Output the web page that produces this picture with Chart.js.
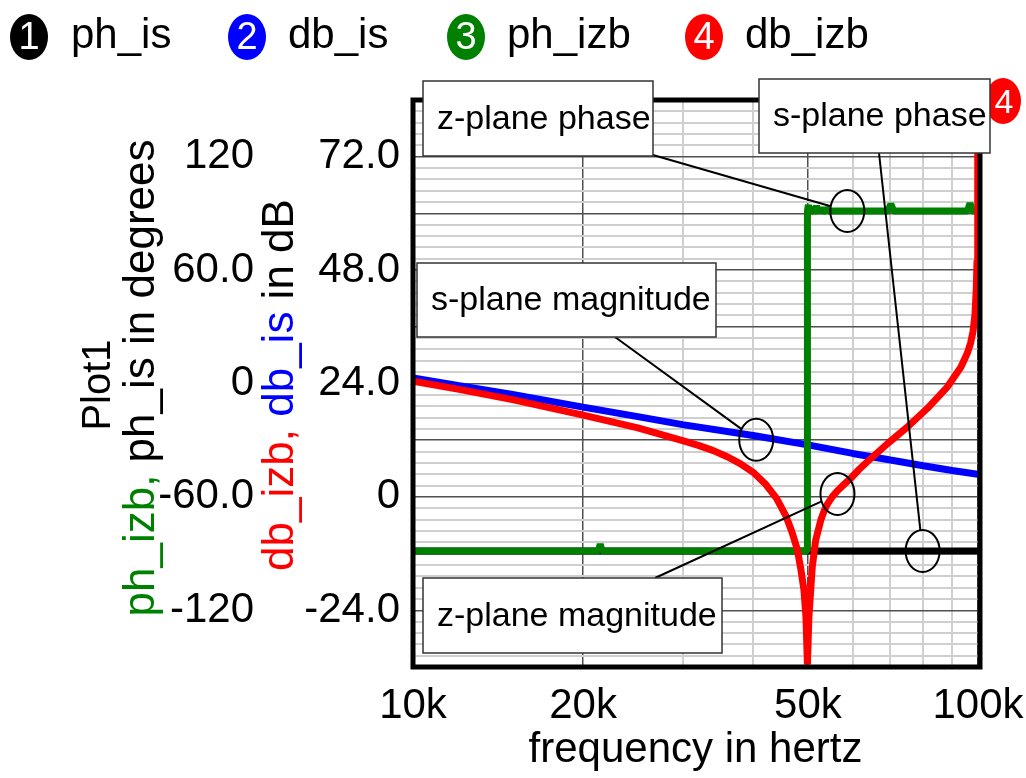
<!DOCTYPE html>
<html>
<head>
<meta charset="utf-8">
<title>Plot1</title>
<script src="https://cdn.jsdelivr.net/npm/chart.js@4.4.1/dist/chart.umd.min.js"></script>
<style>
  html, body { margin: 0; padding: 0; background: #fff; }
  #wrap { width: 1026px; height: 778px; }
</style>
</head>
<body>
<div id="wrap"><canvas id="plot"></canvas></div>
<script>
// values
const xGridValues = [10000, 20000, 30000, 40000, 50000, 60000, 70000, 80000, 90000, 100000];
const xTickValues = [10000, 20000, 50000, 100000];
const xTickLabels = ['10k', '20k', '50k', '100k'];
const phTickValues = [120, 60, 0, -60, -120];
const phTickLabels = ['120', '60.0', '0', '-60.0', '-120'];
const dbTickValues = [72, 48, 24, 0, -24];
const dbTickLabels = ['72.0', '48.0', '24.0', '0', '-24.0'];

// 1: ph_is (s-plane phase)
const phIsFreq = [10000, 100000];
const phIsVals = [-88.6, -88.6];

// 2: db_is (s-plane magnitude)
const dbIsFreq = [10000, 12000, 15000, 20000, 25000, 30000, 40000, 50000, 60000, 70000, 80000, 90000, 100000];
const dbIsVals = [25.2, 23.6, 21.7, 19.0, 17.0, 15.3, 13.0, 11.0, 9.2, 7.8, 6.6, 5.6, 4.8];

// 3: ph_izb (z-plane phase)
const phIzbFreq = [10000, 21300, 21450, 21600, 49900, 49900, 50100, 50300, 50500, 50800, 51100, 51400,
  51800, 52200, 52700, 53200, 53800, 54400, 69300, 70100, 70900, 95800, 96800, 97800, 100000];
const phIzbVals = [-88.6, -88.6, -85.0, -88.6, -88.6, 91.3, 94.5, 89.5, 93.8, 90.0, 93.0, 89.8,
  94.0, 90.2, 92.8, 90.4, 92.4, 91.3, 91.3, 95.0, 91.3, 91.3, 95.3, 91.3, 91.3];

// 4: db_izb (z-plane magnitude)
const dbIzbFreq = [10000, 12000, 15000, 20000, 25000, 30000, 32000, 34000, 36000, 38000, 40000, 42000,
  44000, 45700, 46900, 47900, 48500, 49200, 49600, 49900, 50200, 50900, 51600, 52700, 53400, 54100,
  55200, 56400, 58000, 59600, 61700, 63900, 69200, 75000, 81300, 88300, 93300, 95800, 97000, 98000,
  98800, 99300, 99600, 99800, 99900, 99970];
const dbIzbVals = [24.5, 22.8, 20.6, 17.3, 14.6, 11.9, 10.9, 9.8, 8.5, 7.0, 5.2, 2.8,
  -0.3, -4.0, -7.6, -11.2, -14.8, -19.7, -25.4, -35.5, -25.4, -14.8, -9.2, -4.9, -3.0, -1.6,
  0.0, 1.3, 2.7, 4.0, 5.9, 7.6, 11.3, 14.8, 18.7, 23.3, 27.5, 30.5, 32.5, 35.0,
  38.8, 44.0, 50.0, 60.0, 72.0, 95.0];

// callouts: where each circle sits on its trace
const noteTexts = ['z-plane phase', 's-plane phase', 's-plane magnitude', 'z-plane magnitude'];
const noteAxes = ['yPh', 'yPh', 'yDb', 'yDb'];
const noteFreq = [58700, 79800, 40500, 56400];
const noteVals = [91.3, -88.6, 12.1, 0.6];

const FONT = '"Liberation Sans", Arial, Helvetica, sans-serif';
const GRID_DARK = '#505050';
const GRID_LIGHT = '#cfcfcf';

const toPoints = (fs, vs) => fs.map((f, i) => ({ x: f, y: vs[i] }));
const labelFor = (vals, labels, v) => {
  const i = vals.findIndex(t => Math.abs(t - v) < 1e-6 * Math.max(1, Math.abs(t)));
  return i < 0 ? '' : labels[i];
};
const isDbMajor = v => Math.abs(v / 12 - Math.round(v / 12)) < 1e-6;

// text boxes and the legend are page layout, kept out of the data above
const boxes = [
  { x: 423, y: 81, w: 230, h: 75, lx: 653, ly: 155 },
  { x: 759, y: 79, w: 231, h: 74, lx: 879, ly: 153 },
  { x: 417, y: 263, w: 299, h: 74, lx: 615, ly: 337 },
  { x: 423, y: 578, w: 299, h: 75, lx: 655, ly: 578 }
];
const legendItems = [
  { num: '1', name: 'ph_is', color: '#000000', cx: 29, tx: 71 },
  { num: '2', name: 'db_is', color: '#0000ff', cx: 247, tx: 288 },
  { num: '3', name: 'ph_izb', color: '#008000', cx: 466, tx: 507 },
  { num: '4', name: 'db_izb', color: '#ff0000', cx: 704, tx: 745 }
];

function drawRotated(ctx, cx, cy, size, parts) {
  ctx.save();
  ctx.translate(cx, cy);
  ctx.rotate(-Math.PI / 2);
  ctx.font = size + 'px ' + FONT;
  ctx.textBaseline = 'middle';
  ctx.textAlign = 'left';
  const total = parts.reduce((s, p) => s + ctx.measureText(p[0]).width, 0);
  let x = -total / 2;
  parts.forEach(([t, c]) => {
    ctx.fillStyle = c;
    ctx.fillText(t, x, 0);
    x += ctx.measureText(t).width;
  });
  ctx.restore();
}

function marker(ctx, cx, cy, color, num) {
  ctx.beginPath();
  ctx.ellipse(cx, cy, 19, 23, 0, 0, Math.PI * 2);
  ctx.fillStyle = color;
  ctx.fill();
  ctx.fillStyle = '#fff';
  ctx.font = '38px ' + FONT;
  ctx.textAlign = 'center';
  ctx.textBaseline = 'middle';
  ctx.fillText(num, cx, cy + 2);
}

const decor = {
  id: 'decor',
  beforeDraw(chart) {
    const ctx = chart.ctx;
    ctx.save();
    ctx.fillStyle = '#fff';
    ctx.fillRect(0, 0, chart.width, chart.height);
    ctx.restore();
  },
  afterDatasetsDraw(chart) {
    const ctx = chart.ctx;
    const a = chart.chartArea;
    ctx.save();
    // heavy plot frame
    ctx.strokeStyle = '#000';
    ctx.lineWidth = 5;
    ctx.strokeRect(a.left, a.top, a.right - a.left + 2, a.bottom - a.top);

    // leader lines and circles
    const xs = chart.scales.x;
    ctx.lineWidth = 2;
    noteTexts.forEach((t, i) => {
      const b = boxes[i];
      const cx = xs.getPixelForValue(noteFreq[i]);
      const cy = chart.scales[noteAxes[i]].getPixelForValue(noteVals[i]);
      const rx = 17, ry = 21;
      const dx = b.lx - cx, dy = b.ly - cy;
      const k = 1 / Math.sqrt((dx / rx) ** 2 + (dy / ry) ** 2);
      ctx.beginPath();
      ctx.moveTo(b.lx, b.ly);
      ctx.lineTo(cx + dx * k, cy + dy * k);
      ctx.stroke();
      ctx.beginPath();
      ctx.ellipse(cx, cy, rx, ry, 0, 0, Math.PI * 2);
      ctx.stroke();
    });

    // trace label where db_izb leaves the top
    ctx.beginPath();
    ctx.ellipse(1003, 101, 18, 23, 0, 0, Math.PI * 2);
    ctx.fillStyle = '#ff0000';
    ctx.fill();
    ctx.fillStyle = '#fff';
    ctx.font = '34px ' + FONT;
    ctx.textAlign = 'center';
    ctx.textBaseline = 'middle';
    ctx.fillText('4', 1004, 104);

    // text boxes
    ctx.font = '34px ' + FONT;
    ctx.textAlign = 'left';
    noteTexts.forEach((t, i) => {
      const b = boxes[i];
      ctx.fillStyle = '#fff';
      ctx.fillRect(b.x, b.y, b.w, b.h);
      ctx.strokeStyle = '#333';
      ctx.lineWidth = 1.5;
      ctx.strokeRect(b.x, b.y, b.w, b.h);
      ctx.fillStyle = '#000';
      ctx.fillText(t, b.x + 14, b.y + b.h / 2 + 1);
    });
    ctx.restore();
  },
  afterDraw(chart) {
    const ctx = chart.ctx;
    ctx.save();
    legendItems.forEach(it => {
      marker(ctx, it.cx, 37, it.color, it.num);
      ctx.fillStyle = '#000';
      ctx.font = '42px ' + FONT;
      ctx.textAlign = 'left';
      ctx.textBaseline = 'middle';
      ctx.fillText(it.name, it.tx, 36);
    });
    drawRotated(ctx, 99, 385, 40, [['Plot1', '#000']]);
    drawRotated(ctx, 142, 378, 44, [['ph_izb, ', '#008000'], ['ph_is in degrees', '#000']]);
    drawRotated(ctx, 281, 385, 44, [['db_izb, ', '#ff0000'], ['db_is', '#0000ff'], [' in dB', '#000']]);
    ctx.restore();
  }
};

const tickFont = { family: FONT, size: 42 };
const lineBase = { pointRadius: 0, fill: false, tension: 0, borderWidth: 7, borderJoinStyle: 'bevel', clip: 0 };

new Chart(document.getElementById('plot'), {
  type: 'line',
  data: {
    datasets: [
      { ...lineBase, label: 'db_izb', data: toPoints(dbIzbFreq, dbIzbVals), yAxisID: 'yDb', borderColor: '#ff0000', order: 0 },
      { ...lineBase, label: 'ph_izb', data: toPoints(phIzbFreq, phIzbVals), yAxisID: 'yPh', borderColor: '#008000', order: 1 },
      { ...lineBase, label: 'db_is', data: toPoints(dbIsFreq, dbIsVals), yAxisID: 'yDb', borderColor: '#0000ff', order: 2 },
      { ...lineBase, label: 'ph_is', data: toPoints(phIsFreq, phIsVals), yAxisID: 'yPh', borderColor: '#000000', order: 3 }
    ]
  },
  options: {
    responsive: true,
    maintainAspectRatio: false,
    animation: false,
    devicePixelRatio: 1,
    layout: { padding: { top: 100, right: 48, left: 0, bottom: 0 } },
    plugins: { legend: { display: false }, tooltip: { enabled: false } },
    scales: {
      x: {
        type: 'logarithmic',
        position: 'bottom',
        min: 10000,
        max: 100000,
        afterBuildTicks: s => { s.ticks = xGridValues.map(v => ({ value: v })); },
        border: { display: false },
        grid: {
          drawTicks: false,
          color: c => labelFor(xTickValues, xTickLabels, c.tick.value) ? GRID_DARK : GRID_LIGHT,
          lineWidth: c => labelFor(xTickValues, xTickLabels, c.tick.value) ? 1.5 : 2
        },
        ticks: {
          autoSkip: false,
          maxRotation: 0,
          padding: 14,
          color: '#000',
          font: tickFont,
          callback: v => labelFor(xTickValues, xTickLabels, v)
        },
        title: {
          display: true,
          text: 'frequency in hertz',
          color: '#000',
          font: tickFont,
          padding: { top: 0, bottom: 2 }
        },
        afterFit: s => { s.height = 111; s.paddingLeft = 0; s.paddingRight = 0; }
      },
      yPh: {
        type: 'linear',
        position: 'left',
        weight: 2,
        min: -150,
        max: 150,
        afterBuildTicks: s => { s.ticks = phTickValues.map(v => ({ value: v })); },
        border: { display: false },
        grid: { display: false, drawTicks: false },
        ticks: {
          autoSkip: false,
          padding: 0,
          color: '#000',
          font: tickFont,
          callback: v => labelFor(phTickValues, phTickLabels, v)
        },
        afterFit: s => { s.width = 254; }
      },
      yDb: {
        type: 'linear',
        position: 'left',
        weight: 1,
        min: -36,
        max: 84,
        border: { display: false },
        grid: {
          drawTicks: false,
          color: c => isDbMajor(c.tick.value) ? GRID_DARK : GRID_LIGHT,
          lineWidth: c => isDbMajor(c.tick.value) ? 1.5 : 2
        },
        ticks: {
          stepSize: 2.4,
          maxTicksLimit: 100,
          autoSkip: false,
          padding: 13,
          color: '#000',
          font: tickFont,
          callback: v => labelFor(dbTickValues, dbTickLabels, v)
        },
        afterFit: s => { s.width = 159; }
      }
    }
  },
  plugins: [decor]
});
</script>
</body>
</html>
